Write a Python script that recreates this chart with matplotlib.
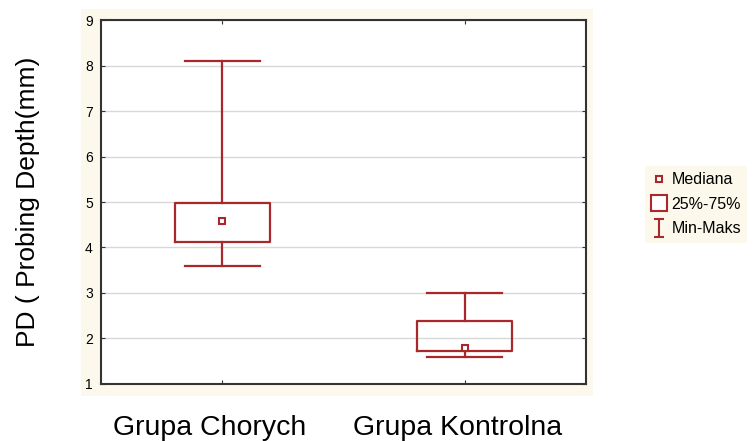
import matplotlib
matplotlib.use("Agg")
import matplotlib.pyplot as plt
from matplotlib.lines import Line2D
from matplotlib.patches import Rectangle
from matplotlib.path import Path
from matplotlib.transforms import ScaledTranslation

plt.rcParams["font.family"] = ["Liberation Sans", "DejaVu Sans"]

# data
groups = ["Grupa Chorych", "Grupa Kontrolna"]
medians = [4.58, 1.80]
q1 = [4.12, 1.72]
q3 = [4.98, 2.38]
mins = [3.60, 1.60]
maxs = [8.10, 3.00]
legend_labels = ["Mediana", "25%-75%", "Min-Maks"]

RED = "#a8282c"
CREAM = "#fcf8ec"

fig = plt.figure(figsize=(7.54, 4.41), dpi=100)
fig.patches.append(Rectangle((0.107, 0.103), 0.679, 0.876, transform=fig.transFigure,
                             facecolor=CREAM, edgecolor="none", zorder=-1))
ax = fig.add_axes([0.134, 0.1293, 0.643, 0.8253])
ax.set_facecolor("white")

stats = [dict(med=m, q1=a, q3=b, whislo=lo, whishi=hi, fliers=[])
         for m, a, b, lo, hi in zip(medians, q1, q3, mins, maxs)]
ax.bxp(stats, positions=[0, 1], widths=0.39, capwidths=0.31, showfliers=False,
       boxprops=dict(color=RED, lw=1.6),
       whiskerprops=dict(color=RED, lw=1.6),
       capprops=dict(color=RED, lw=1.6),
       medianprops=dict(visible=False), zorder=3)
ax.plot([0, 1], medians, ls="none", marker="s", ms=5, mfc="white",
        mec=RED, mew=1.5, zorder=4)

ax.set_xlim(-0.5, 1.5)
ax.set_ylim(1, 9)
ax.set_yticks(range(1, 10))
ax.set_xticks([0, 1])
ax.set_xticklabels(groups, fontsize=20.5)
ax.yaxis.grid(True, color="#d8d8d8", lw=1)
ax.set_axisbelow(True)
ax.tick_params(axis="both", direction="in", length=3, top=True, right=True,
               color="#333333")
ax.tick_params(axis="y", labelsize=10, pad=6)
ax.tick_params(axis="x", pad=22)
# labels sit a little left of their ticks in the original
for lab, dx in zip(ax.get_xticklabels(), [-13, -7]):
    lab.set_transform(lab.get_transform() + ScaledTranslation(dx / 100, 0, fig.dpi_scale_trans))
for s in ax.spines.values():
    s.set_color("#333333")
    s.set_linewidth(1.5)
ax.set_ylabel("PD ( Probing Depth(mm)", fontsize=19, labelpad=32)

ibeam = Path([(-0.6, 1), (0.6, 1), (0, 1), (0, -1), (-0.6, -1), (0.6, -1)],
             [Path.MOVETO, Path.LINETO, Path.MOVETO, Path.LINETO, Path.MOVETO, Path.LINETO])
handles = [
    Line2D([], [], ls="none", marker="s", ms=5, mfc="white", mec=RED, mew=1.5),
    Line2D([], [], ls="none", marker="s", ms=11, mfc="white", mec=RED, mew=1.5),
    Line2D([], [], ls="none", marker=ibeam, ms=13, mec=RED, mew=1.5),
]
leg = fig.legend(handles, legend_labels, loc="center left",
                 bbox_to_anchor=(0.845, 0.537), fontsize=11.5, frameon=True,
                 facecolor=CREAM, edgecolor="none", fancybox=False,
                 handlelength=0.9, handletextpad=0.35, labelspacing=0.6,
                 borderpad=0.4)
leg.get_frame().set_alpha(1)

fig.savefig("out.png", dpi=100)
